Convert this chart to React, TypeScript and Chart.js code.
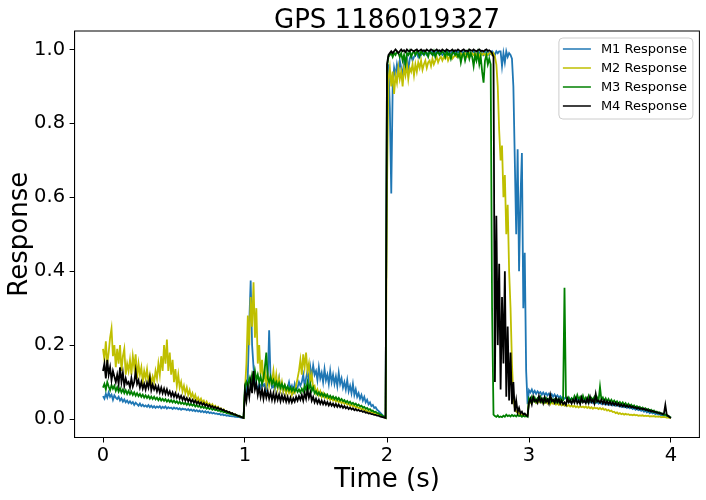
import React, { useEffect, useRef } from 'react';
import { Chart, registerables } from 'chart.js';

Chart.register(...registerables);

const TITLE = 'GPS 1186019327';
const X_LABEL = 'Time (s)';
const Y_LABEL = 'Response';
const SERIES_NAMES = ['M1 Response', 'M2 Response', 'M3 Response', 'M4 Response'];
const SERIES_COLORS = ['#1f77b4', '#bfbf00', '#008000', '#000000'];
const TIME_STEP = 0.01; // seconds between samples, starting at 0
const X_TICKS = [0, 1, 2, 3, 4];
const Y_TICKS = [0, 0.2, 0.4, 0.6, 0.8, 1.0];

const M1_RESPONSE = [
  0.062,0.055,0.068,0.058,0.072,0.06,0.066,0.052,0.064,0.058,
  0.054,0.06,0.05,0.056,0.047,0.053,0.045,0.05,0.043,0.048,
  0.042,0.046,0.038,0.044,0.04,0.036,0.042,0.035,0.039,0.034,
  0.037,0.033,0.038,0.032,0.036,0.031,0.035,0.03,0.034,0.031,
  0.035,0.029,0.033,0.03,0.034,0.028,0.032,0.029,0.031,0.027,
  0.031,0.028,0.03,0.026,0.029,0.025,0.028,0.026,0.027,0.024,
  0.027,0.023,0.026,0.022,0.025,0.021,0.024,0.02,0.023,0.019,
  0.022,0.018,0.021,0.017,0.02,0.016,0.018,0.015,0.017,0.014,
  0.015,0.013,0.014,0.011,0.013,0.01,0.011,0.009,0.01,0.008,
  0.008,0.007,0.007,0.006,0.006,0.005,0.005,0.004,0.004,0.003,
  0.085,0.07,0.12,0.26,0.375,0.2,0.14,0.1,0.09,0.08,
  0.095,0.085,0.1,0.09,0.095,0.08,0.1,0.24,0.11,0.085,
  0.09,0.08,0.1,0.085,0.11,0.08,0.095,0.075,0.09,0.08,
  0.085,0.1,0.08,0.09,0.075,0.095,0.08,0.085,0.1,0.09,
  0.1,0.12,0.09,0.11,0.13,0.1,0.14,0.115,0.145,0.12,
  0.13,0.105,0.14,0.11,0.125,0.1,0.135,0.105,0.12,0.095,
  0.13,0.1,0.12,0.095,0.115,0.09,0.125,0.095,0.11,0.085,
  0.1,0.08,0.105,0.075,0.09,0.07,0.095,0.065,0.08,0.06,
  0.07,0.055,0.065,0.05,0.06,0.045,0.052,0.04,0.045,0.035,
  0.038,0.03,0.032,0.025,0.022,0.018,0.014,0.01,0.006,0.004,
  0.9,0.96,0.84,0.61,0.9,0.95,0.93,0.96,0.94,0.97,
  0.95,0.925,0.97,0.96,0.98,0.94,0.975,0.985,0.97,0.98,
  0.985,0.99,0.98,0.99,0.985,0.99,0.995,0.99,0.985,0.99,
  0.995,0.99,0.995,0.985,0.99,0.995,0.99,0.995,0.99,0.985,
  0.99,0.995,0.99,0.995,0.985,0.99,0.995,0.99,0.995,0.99,
  0.995,0.99,0.985,0.995,0.99,0.995,0.99,0.985,0.995,0.99,
  0.99,0.995,0.99,0.985,0.995,0.99,0.995,0.99,0.985,0.995,
  0.99,0.995,0.985,0.99,0.995,0.99,0.985,0.995,0.99,0.995,
  0.995,0.955,0.99,0.965,0.995,0.98,0.99,0.985,0.975,0.9,
  0.7,0.5,0.73,0.4,0.6,0.72,0.3,0.45,0.13,0.04,
  0.078,0.072,0.08,0.07,0.076,0.068,0.075,0.07,0.073,0.066,
  0.072,0.065,0.07,0.064,0.069,0.062,0.067,0.06,0.066,0.059,
  0.064,0.058,0.062,0.056,0.06,0.055,0.058,0.053,0.057,0.052,
  0.056,0.051,0.055,0.05,0.054,0.049,0.053,0.048,0.052,0.047,
  0.051,0.046,0.05,0.045,0.049,0.044,0.048,0.043,0.047,0.042,
  0.046,0.041,0.045,0.04,0.044,0.039,0.043,0.038,0.042,0.037,
  0.041,0.036,0.04,0.035,0.038,0.033,0.037,0.032,0.035,0.03,
  0.034,0.029,0.032,0.027,0.03,0.025,0.028,0.024,0.026,0.022,
  0.025,0.02,0.023,0.018,0.021,0.016,0.019,0.015,0.017,0.013,
  0.016,0.012,0.014,0.01,0.012,0.008,0.01,0.007,0.008,0.005,
  0.003,
];

const M2_RESPONSE = [
  0.19,0.16,0.21,0.15,0.18,0.22,0.245,0.17,0.2,0.14,
  0.19,0.15,0.2,0.13,0.17,0.19,0.12,0.15,0.13,0.16,
  0.12,0.17,0.14,0.175,0.11,0.15,0.12,0.14,0.1,0.13,
  0.11,0.135,0.1,0.12,0.095,0.115,0.1,0.13,0.11,0.15,
  0.12,0.17,0.13,0.2,0.15,0.215,0.13,0.18,0.12,0.16,
  0.1,0.135,0.09,0.12,0.085,0.1,0.075,0.09,0.07,0.085,
  0.065,0.078,0.06,0.07,0.055,0.065,0.05,0.058,0.048,0.055,
  0.045,0.05,0.04,0.047,0.038,0.042,0.035,0.04,0.032,0.036,
  0.029,0.033,0.026,0.029,0.023,0.026,0.02,0.022,0.017,0.019,
  0.014,0.016,0.012,0.013,0.01,0.009,0.007,0.006,0.005,0.003,
  0.08,0.15,0.28,0.2,0.33,0.25,0.37,0.22,0.3,0.15,
  0.2,0.12,0.16,0.1,0.13,0.095,0.12,0.09,0.11,0.1,
  0.13,0.09,0.12,0.085,0.11,0.08,0.1,0.075,0.09,0.07,
  0.085,0.07,0.08,0.065,0.075,0.07,0.09,0.11,0.13,0.16,
  0.12,0.175,0.14,0.18,0.13,0.15,0.1,0.12,0.085,0.09,
  0.07,0.08,0.065,0.075,0.06,0.07,0.058,0.065,0.055,0.06,
  0.052,0.058,0.05,0.055,0.047,0.052,0.045,0.05,0.043,0.047,
  0.041,0.045,0.039,0.042,0.036,0.04,0.034,0.037,0.031,0.034,
  0.029,0.031,0.026,0.028,0.023,0.025,0.02,0.022,0.018,0.019,
  0.016,0.017,0.014,0.013,0.012,0.01,0.009,0.007,0.005,0.003,
  0.62,0.92,0.95,0.9,0.94,0.88,0.93,0.91,0.95,0.92,
  0.94,0.9,0.95,0.93,0.96,0.92,0.95,0.94,0.96,0.93,
  0.96,0.94,0.965,0.95,0.97,0.945,0.96,0.97,0.95,0.965,
  0.97,0.955,0.975,0.96,0.97,0.98,0.965,0.975,0.98,0.97,
  0.98,0.975,0.985,0.97,0.98,0.985,0.975,0.98,0.985,0.98,
  0.985,0.98,0.99,0.98,0.985,0.99,0.985,0.98,0.99,0.985,
  0.99,0.985,0.99,0.985,0.99,0.98,0.99,0.985,0.99,0.985,
  0.99,0.985,0.99,0.99,0.985,0.99,0.98,0.96,0.9,0.78,
  0.7,0.74,0.6,0.66,0.5,0.58,0.4,0.3,0.15,0.06,
  0.03,0.02,0.018,0.015,0.012,0.01,0.012,0.01,0.008,0.01,
  0.05,0.045,0.055,0.048,0.052,0.044,0.05,0.046,0.053,0.045,
  0.05,0.043,0.048,0.042,0.047,0.04,0.046,0.041,0.045,0.039,
  0.043,0.038,0.042,0.037,0.041,0.036,0.04,0.035,0.038,0.034,
  0.037,0.033,0.036,0.032,0.035,0.031,0.035,0.032,0.034,0.031,
  0.034,0.03,0.033,0.029,0.032,0.028,0.031,0.029,0.03,0.027,
  0.03,0.026,0.029,0.025,0.027,0.023,0.025,0.021,0.023,0.019,
  0.02,0.016,0.018,0.014,0.016,0.013,0.015,0.012,0.014,0.012,
  0.013,0.011,0.012,0.01,0.012,0.01,0.011,0.009,0.01,0.009,
  0.01,0.008,0.009,0.008,0.009,0.007,0.008,0.007,0.008,0.006,
  0.007,0.006,0.007,0.005,0.006,0.005,0.005,0.004,0.004,0.003,
  0.003,
];

const M3_RESPONSE = [
  0.085,0.095,0.08,0.1,0.088,0.078,0.092,0.082,0.09,0.076,
  0.086,0.074,0.083,0.072,0.08,0.07,0.078,0.068,0.076,0.067,
  0.074,0.065,0.072,0.063,0.07,0.062,0.068,0.06,0.066,0.058,
  0.064,0.057,0.063,0.055,0.061,0.054,0.06,0.053,0.058,0.051,
  0.057,0.05,0.055,0.049,0.054,0.047,0.052,0.046,0.051,0.045,
  0.05,0.044,0.048,0.042,0.047,0.041,0.045,0.04,0.044,0.038,
  0.043,0.037,0.041,0.036,0.04,0.034,0.038,0.033,0.036,0.031,
  0.035,0.03,0.033,0.028,0.031,0.027,0.03,0.025,0.028,0.024,
  0.026,0.022,0.024,0.02,0.022,0.018,0.02,0.016,0.018,0.014,
  0.015,0.012,0.013,0.01,0.011,0.008,0.009,0.006,0.006,0.004,
  0.09,0.1,0.085,0.11,0.095,0.12,0.1,0.13,0.105,0.12,
  0.1,0.115,0.095,0.11,0.14,0.18,0.11,0.1,0.115,0.095,
  0.105,0.09,0.1,0.088,0.098,0.085,0.095,0.083,0.092,0.08,
  0.088,0.078,0.086,0.076,0.084,0.075,0.082,0.073,0.08,0.072,
  0.082,0.074,0.09,0.078,0.1,0.082,0.095,0.076,0.085,0.07,
  0.075,0.066,0.072,0.064,0.07,0.062,0.068,0.06,0.066,0.058,
  0.063,0.056,0.061,0.054,0.059,0.052,0.057,0.05,0.054,0.048,
  0.051,0.045,0.049,0.043,0.047,0.041,0.044,0.039,0.042,0.036,
  0.039,0.034,0.036,0.031,0.033,0.028,0.03,0.025,0.027,0.022,
  0.023,0.019,0.02,0.016,0.016,0.012,0.012,0.008,0.007,0.004,
  0.95,0.98,0.985,0.99,0.98,0.99,0.985,0.995,0.99,0.98,
  0.99,0.97,0.985,0.96,0.99,0.985,0.995,0.98,0.99,0.995,
  0.985,0.995,0.99,0.98,0.995,0.99,0.985,0.995,0.99,0.98,
  0.995,0.99,0.985,0.995,0.98,0.99,0.995,0.985,0.99,0.995,
  0.99,0.98,0.995,0.985,0.99,0.975,0.99,0.995,0.985,0.99,
  0.98,0.99,0.965,0.985,0.99,0.97,0.985,0.995,0.975,0.99,
  0.98,0.955,0.985,0.97,0.99,0.96,0.98,0.94,0.91,0.97,
  0.985,0.96,0.975,0.96,0.3,0.012,0.008,0.006,0.01,0.005,
  0.007,0.005,0.009,0.006,0.012,0.008,0.01,0.007,0.011,0.008,
  0.01,0.007,0.012,0.008,0.01,0.006,0.009,0.007,0.008,0.006,
  0.055,0.048,0.06,0.05,0.058,0.047,0.056,0.05,0.06,0.048,
  0.055,0.047,0.057,0.049,0.054,0.046,0.055,0.048,0.053,0.045,
  0.052,0.046,0.055,0.048,0.05,0.355,0.06,0.05,0.058,0.048,
  0.056,0.05,0.062,0.052,0.065,0.053,0.06,0.05,0.063,0.051,
  0.058,0.049,0.062,0.05,0.057,0.052,0.06,0.048,0.058,0.05,
  0.087,0.052,0.058,0.048,0.056,0.047,0.054,0.046,0.052,0.045,
  0.05,0.043,0.048,0.041,0.046,0.04,0.045,0.038,0.043,0.036,
  0.041,0.035,0.039,0.033,0.037,0.031,0.035,0.03,0.033,0.028,
  0.031,0.026,0.029,0.024,0.027,0.022,0.025,0.02,0.023,0.018,
  0.02,0.016,0.018,0.014,0.015,0.011,0.012,0.009,0.009,0.006,
  0.004,
];

const M4_RESPONSE = [
  0.13,0.15,0.11,0.16,0.12,0.14,0.105,0.13,0.115,0.1,
  0.12,0.095,0.14,0.1,0.125,0.09,0.11,0.095,0.1,0.085,
  0.11,0.088,0.1,0.13,0.095,0.105,0.085,0.1,0.082,0.095,
  0.08,0.098,0.085,0.11,0.078,0.093,0.08,0.09,0.075,0.088,
  0.072,0.085,0.07,0.082,0.068,0.08,0.066,0.075,0.062,0.072,
  0.06,0.07,0.058,0.066,0.055,0.063,0.052,0.06,0.05,0.057,
  0.048,0.055,0.046,0.052,0.044,0.05,0.042,0.047,0.04,0.045,
  0.038,0.043,0.036,0.04,0.034,0.038,0.032,0.035,0.03,0.033,
  0.028,0.031,0.026,0.028,0.024,0.025,0.021,0.022,0.018,0.019,
  0.015,0.016,0.012,0.013,0.01,0.009,0.007,0.006,0.004,0.003,
  0.075,0.05,0.085,0.06,0.1,0.07,0.13,0.08,0.095,0.065,
  0.085,0.06,0.08,0.055,0.078,0.058,0.075,0.055,0.072,0.052,
  0.07,0.05,0.068,0.052,0.066,0.048,0.064,0.05,0.062,0.047,
  0.06,0.046,0.058,0.045,0.056,0.047,0.06,0.05,0.062,0.052,
  0.065,0.05,0.07,0.055,0.08,0.058,0.072,0.05,0.06,0.045,
  0.055,0.043,0.052,0.041,0.05,0.04,0.048,0.039,0.046,0.037,
  0.044,0.036,0.042,0.034,0.041,0.033,0.039,0.032,0.037,0.03,
  0.035,0.029,0.033,0.027,0.031,0.026,0.029,0.024,0.027,0.023,
  0.025,0.021,0.023,0.019,0.021,0.017,0.018,0.015,0.016,0.013,
  0.013,0.011,0.011,0.009,0.009,0.007,0.006,0.005,0.004,0.003,
  0.96,0.985,0.99,0.995,0.99,0.995,1.0,0.995,0.99,0.995,
  1.0,0.995,0.998,0.993,1.0,0.996,0.995,1.0,0.997,0.995,
  0.998,1.0,0.995,0.997,1.0,0.996,0.998,0.995,1.0,0.997,
  0.996,1.0,0.998,0.995,0.997,1.0,0.996,0.998,0.995,1.0,
  0.997,0.995,1.0,0.998,0.996,0.997,1.0,0.995,0.998,0.996,
  1.0,0.997,0.995,0.998,1.0,0.996,0.997,0.995,1.0,0.998,
  0.996,1.0,0.997,0.995,0.998,1.0,0.996,0.997,0.995,0.998,
  1.0,0.996,0.998,0.995,0.99,0.98,0.1,0.55,0.2,0.42,
  0.08,0.33,0.15,0.4,0.06,0.25,0.05,0.18,0.04,0.1,
  0.02,0.05,0.018,0.03,0.015,0.02,0.012,0.015,0.01,0.008,
  0.045,0.055,0.04,0.06,0.048,0.052,0.044,0.062,0.047,0.055,
  0.043,0.058,0.046,0.053,0.042,0.065,0.048,0.052,0.044,0.057,
  0.046,0.054,0.042,0.05,0.04,0.045,0.038,0.055,0.045,0.05,
  0.042,0.052,0.044,0.056,0.043,0.05,0.041,0.058,0.045,0.05,
  0.043,0.055,0.044,0.06,0.046,0.052,0.042,0.068,0.047,0.05,
  0.044,0.052,0.042,0.05,0.041,0.048,0.04,0.047,0.039,0.045,
  0.038,0.044,0.037,0.042,0.035,0.04,0.034,0.039,0.033,0.037,
  0.032,0.036,0.031,0.034,0.03,0.032,0.028,0.031,0.027,0.029,
  0.026,0.028,0.024,0.026,0.022,0.024,0.02,0.022,0.019,0.02,
  0.017,0.018,0.015,0.016,0.013,0.014,0.038,0.012,0.008,0.005,
  0.003,
];

const SERIES_VALUES = [M1_RESPONSE, M2_RESPONSE, M3_RESPONSE, M4_RESPONSE];

const FONT = '"DejaVu Sans", sans-serif';

const decorPlugin = {
  id: 'decor',
  afterDraw(chart: any) {
    const { ctx, chartArea: a } = chart;
    ctx.save();
    // frame (all four spines)
    ctx.strokeStyle = '#000';
    ctx.lineWidth = 1;
    ctx.strokeRect(a.left, a.top, a.right - a.left, a.bottom - a.top);
    // title
    ctx.fillStyle = '#000';
    ctx.font = `26px ${FONT}`;
    ctx.textAlign = 'center';
    ctx.textBaseline = 'alphabetic';
    ctx.fillText(TITLE, (a.left + a.right) / 2, 28);
    // legend
    const bx = a.right - 140.5;
    const by = a.top + 7;
    const bw = 134;
    const bh = 81;
    const r = 4;
    ctx.beginPath();
    ctx.moveTo(bx + r, by);
    ctx.lineTo(bx + bw - r, by);
    ctx.arcTo(bx + bw, by, bx + bw, by + r, r);
    ctx.lineTo(bx + bw, by + bh - r);
    ctx.arcTo(bx + bw, by + bh, bx + bw - r, by + bh, r);
    ctx.lineTo(bx + r, by + bh);
    ctx.arcTo(bx, by + bh, bx, by + bh - r, r);
    ctx.lineTo(bx, by + r);
    ctx.arcTo(bx, by, bx + r, by, r);
    ctx.closePath();
    ctx.fillStyle = 'rgba(255,255,255,0.8)';
    ctx.fill();
    ctx.strokeStyle = '#cccccc';
    ctx.lineWidth = 1;
    ctx.stroke();
    ctx.font = `13px ${FONT}`;
    ctx.textAlign = 'left';
    ctx.textBaseline = 'middle';
    SERIES_NAMES.forEach((name, i) => {
      const y = by + 11 + i * 19;
      ctx.strokeStyle = SERIES_COLORS[i];
      ctx.lineWidth = 1.5;
      ctx.beginPath();
      ctx.moveTo(bx + 4, y);
      ctx.lineTo(bx + 32, y);
      ctx.stroke();
      ctx.fillStyle = '#000';
      ctx.fillText(name, bx + 42, y + 1);
    });
    ctx.restore();
  },
};

export default function App() {
  const canvasRef = useRef<HTMLCanvasElement | null>(null);

  useEffect(() => {
    document.body.style.margin = '0';
    const canvas = canvasRef.current;
    if (!canvas) return;
    const datasets = SERIES_VALUES.map((vals, k) => ({
      label: SERIES_NAMES[k],
      data: vals.map((y, i) => ({ x: i * TIME_STEP, y })),
      borderColor: SERIES_COLORS[k],
      backgroundColor: SERIES_COLORS[k],
      borderWidth: 1.8,
      pointRadius: 0,
      pointHoverRadius: 0,
      fill: false,
      tension: 0,
      order: SERIES_VALUES.length - k,
    }));
    const chart = new Chart(canvas, {
      type: 'line',
      data: { datasets },
      options: {
        animation: false,
        responsive: false,
        devicePixelRatio: 1,
        layout: { padding: { top: 31, right: 6.6, left: 0, bottom: 0 } },
        plugins: {
          legend: { display: false },
          title: { display: false },
          tooltip: { enabled: false },
        },
        scales: {
          x: {
            type: 'linear',
            min: -0.2,
            max: 4.2,
            afterBuildTicks: (scale: any) => {
              scale.ticks = X_TICKS.map((value) => ({ value }));
            },
            afterFit: (scale: any) => {
              scale.height = 62.5;
            },
            grid: {
              drawOnChartArea: false,
              drawTicks: true,
              tickLength: 5,
              tickColor: '#000',
            },
            border: { display: true, color: '#000' },
            ticks: {
              padding: 1.5,
              color: '#000',
              font: { family: FONT, size: 19.5 },
              maxRotation: 0,
              autoSkip: false,
              callback: (v: any) => String(v),
            },
            title: {
              display: true,
              text: X_LABEL,
              color: '#000',
              font: { family: FONT, size: 26 },
              padding: { top: 0, bottom: 4 },
            },
          },
          y: {
            type: 'linear',
            min: -0.05,
            max: 1.05,
            afterBuildTicks: (scale: any) => {
              scale.ticks = Y_TICKS.map((value) => ({ value }));
            },
            afterFit: (scale: any) => {
              scale.width = 74.6;
            },
            grid: {
              drawOnChartArea: false,
              drawTicks: true,
              tickLength: 5,
              tickColor: '#000',
            },
            border: { display: true, color: '#000' },
            ticks: {
              padding: 4.5,
              color: '#000',
              font: { family: FONT, size: 19.5 },
              autoSkip: false,
              callback: (v: any) => Number(v).toFixed(1),
            },
            title: {
              display: true,
              text: Y_LABEL,
              color: '#000',
              font: { family: FONT, size: 26 },
              padding: { top: 5, bottom: 0 },
            },
          },
        },
      },
      plugins: [decorPlugin],
    });
    return () => chart.destroy();
  }, []);

  return (
    <div style={{ width: 706, height: 500 }}>
      <canvas ref={canvasRef} width={706} height={500} style={{ display: 'block' }} />
    </div>
  );
}
